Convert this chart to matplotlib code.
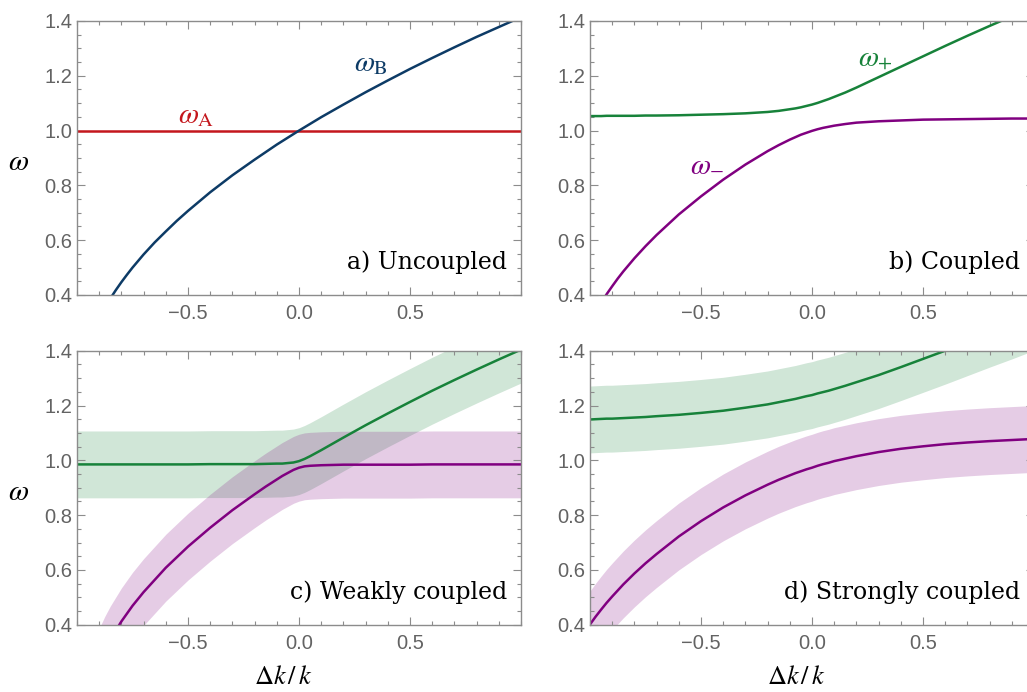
import matplotlib
matplotlib.use("Agg")
import matplotlib.pyplot as plt
from matplotlib.ticker import MultipleLocator, FixedLocator
import numpy as np

plt.rcParams['mathtext.fontset'] = 'stix'

# ---------------- data ----------------
# panel a
x_a = [-0.85, -0.825, -0.8, -0.775, -0.75, -0.7, -0.65, -0.6, -0.55, -0.5, -0.4, -0.3, -0.2,
       -0.1, 0.0, 0.1, 0.2, 0.3, 0.4, 0.5, 0.6, 0.7, 0.8, 0.9, 1.0]
omega_B = [0.387, 0.418, 0.447, 0.474, 0.500, 0.548, 0.592, 0.632, 0.671, 0.707, 0.775, 0.837,
           0.894, 0.949, 1.000, 1.049, 1.095, 1.140, 1.183, 1.225, 1.265, 1.304, 1.342, 1.378, 1.414]
x_line_a = [-1.0, 1.0]
omega_A = [1.0, 1.0]

# common grid for panels b, c, d
x_grid = [-1, -0.975, -0.95, -0.925, -0.9, -0.875, -0.85, -0.8, -0.75, -0.7, -0.6, -0.5, -0.4,
          -0.3, -0.2, -0.15, -0.1, -0.075, -0.05, -0.025, 0, 0.025, 0.05, 0.075, 0.1, 0.15,
          0.2, 0.3, 0.4, 0.5, 0.6, 0.7, 0.8, 0.9, 1.0]

# panel b (coupled)
b_plus = [1.053, 1.053, 1.053, 1.054, 1.054, 1.054, 1.054, 1.054, 1.055, 1.055, 1.056, 1.058,
          1.060, 1.063, 1.068, 1.072, 1.078, 1.081, 1.085, 1.090, 1.095, 1.101, 1.108, 1.115,
          1.123, 1.139, 1.157, 1.195, 1.233, 1.271, 1.309, 1.346, 1.382, 1.417, 1.451]
b_minus = [None, None, 0.371, 0.403, 0.432, 0.460, 0.486, 0.534, 0.578, 0.619, 0.694, 0.760,
           0.821, 0.876, 0.925, 0.947, 0.967, 0.976, 0.985, 0.992, 0.999, 1.005, 1.010, 1.014,
           1.018, 1.024, 1.029, 1.034, 1.037, 1.040, 1.041, 1.042, 1.043, 1.044, 1.044]

# panel c (weakly coupled)
c_plus = [0.985, 0.985, 0.985, 0.985, 0.985, 0.985, 0.985, 0.985, 0.985, 0.985, 0.985, 0.985,
          0.986, 0.986, 0.986, 0.987, 0.988, 0.988, 0.990, 0.992, 0.997, 1.005, 1.015, 1.026,
          1.037, 1.060, 1.083, 1.128, 1.171, 1.213, 1.254, 1.293, 1.331, 1.368, 1.404]
c_minus = [None, None, 0.141, 0.212, 0.264, 0.308, 0.346, 0.412, 0.469, 0.519, 0.608, 0.685,
           0.754, 0.818, 0.876, 0.904, 0.930, 0.943, 0.954, 0.965, 0.973, 0.978, 0.980, 0.981,
           0.982, 0.983, 0.984, 0.984, 0.984, 0.984, 0.985, 0.985, 0.985, 0.985, 0.985]

# panel d (strongly coupled)
d_plus = [1.149, 1.150, 1.151, 1.152, 1.152, 1.153, 1.154, 1.156, 1.158, 1.161, 1.166, 1.173,
          1.181, 1.192, 1.204, 1.212, 1.220, 1.224, 1.229, 1.234, 1.238, 1.244, 1.249, 1.254,
          1.260, 1.272, 1.285, 1.311, 1.340, 1.370, 1.400, 1.431, 1.462, 1.492, 1.523]
d_minus = [0.401, 0.429, 0.455, 0.480, 0.503, 0.525, 0.547, 0.587, 0.624, 0.658, 0.722, 0.778,
           0.828, 0.872, 0.911, 0.929, 0.945, 0.953, 0.960, 0.967, 0.973, 0.980, 0.986, 0.991,
           0.997, 1.006, 1.015, 1.030, 1.042, 1.051, 1.059, 1.065, 1.070, 1.074, 1.078]

band_half_width = 0.122

x_ticks = [-0.5, 0.0, 0.5]
x_ticklabels = ["\u22120.5", "0.0", "0.5"]
y_ticks = [0.4, 0.6, 0.8, 1.0, 1.2, 1.4]
y_ticklabels = ["0.4", "0.6", "0.8", "1.0", "1.2", "1.4"]
panel_titles = ["a) Uncoupled", "b) Coupled", "c) Weakly coupled", "d) Strongly coupled"]

# ---------------- style ----------------
RED = '#c4171d'
BLUE = '#0d3b66'
GREEN = '#17823a'
PURPLE = '#800080'
FRAME = '#8c8c8c'
TICKTXT = '#636363'
LW = 1.8

W, H = 1027, 692
fig = plt.figure(figsize=(W / 100, H / 100), dpi=100)

def add_ax(left_px, top_px):
    return fig.add_axes([left_px / W, 1 - (top_px + 274) / H, 444 / W, 274 / H])

ax_a = add_ax(77, 21)
ax_b = add_ax(590, 21)
ax_c = add_ax(77, 350.7)
ax_d = add_ax(590, 350.7)
axes = [ax_a, ax_b, ax_c, ax_d]

for ax, title in zip(axes, panel_titles):
    ax.set_xlim(-1.0, 1.0)
    ax.set_ylim(0.4, 1.4)
    ax.xaxis.set_major_locator(FixedLocator(x_ticks))
    ax.set_xticklabels(x_ticklabels)
    ax.xaxis.set_minor_locator(MultipleLocator(0.1))
    ax.yaxis.set_major_locator(FixedLocator(y_ticks))
    ax.set_yticklabels(y_ticklabels)
    ax.yaxis.set_minor_locator(MultipleLocator(0.05))
    for s in ax.spines.values():
        s.set_color(FRAME)
        s.set_linewidth(1.0)
    ax.tick_params(which='both', direction='in', top=True, right=True, color=FRAME, width=0.8)
    ax.tick_params(which='major', length=5.5)
    ax.tick_params(which='minor', length=3)
    ax.tick_params(axis='x', which='major', pad=6.5, labelsize=14.5, labelcolor=TICKTXT)
    ax.tick_params(axis='y', which='major', pad=3.5, labelsize=14.5, labelcolor=TICKTXT)
    for lab in ax.get_xticklabels() + ax.get_yticklabels():
        lab.set_fontfamily('Liberation Sans')
    ax.text(0.9685, 0.095, title, transform=ax.transAxes, ha='right', va='baseline',
            fontsize=17, family='DejaVu Serif', color='black')

# panel a
ax_a.plot(x_line_a, omega_A, color=RED, lw=LW)
ax_a.plot(x_a, omega_B, color=BLUE, lw=LW)
ax_a.text(-0.465, 1.058, r'$\omega_{\mathrm{A}}$', color=RED, fontsize=21, ha='center', va='center')
ax_a.text(0.324, 1.245, r'$\omega_{\mathrm{B}}$', color=BLUE, fontsize=21, ha='center', va='center')

# panel b
xg = np.array(x_grid, dtype=float)
def arr(v):
    return np.array([np.nan if a is None else a for a in v], dtype=float)

ax_b.plot(xg, arr(b_plus), color=GREEN, lw=LW)
ax_b.plot(xg, arr(b_minus), color=PURPLE, lw=LW)
ax_b.text(0.286, 1.269, r'$\omega_{+}$', color=GREEN, fontsize=21, ha='center', va='center')
ax_b.text(-0.471, 0.880, r'$\omega_{-}$', color=PURPLE, fontsize=21, ha='center', va='center')

# panels c and d
for ax, wp, wm in [(ax_c, c_plus, c_minus), (ax_d, d_plus, d_minus)]:
    p = arr(wp)
    m = arr(wm)
    okp = ~np.isnan(p)
    okm = ~np.isnan(m)
    ax.fill_between(xg[okp], p[okp] - band_half_width, p[okp] + band_half_width,
                    color=GREEN, alpha=0.2, lw=0)
    ax.fill_between(xg[okm], m[okm] - band_half_width, m[okm] + band_half_width,
                    color=PURPLE, alpha=0.2, lw=0)
    ax.plot(xg, p, color=GREEN, lw=LW)
    ax.plot(xg, m, color=PURPLE, lw=LW)

# axis labels
for ypx in (162, 492):
    fig.text(18.5 / W, 1 - ypx / H, r'$\omega$', fontsize=21, ha='center', va='center')
for xpx in (283, 796):
    fig.text(xpx / W, 1 - 677 / H, r'$\Delta k\,/\,k$', fontsize=19, ha='center', va='center')

fig.savefig("out.png", dpi=100)
